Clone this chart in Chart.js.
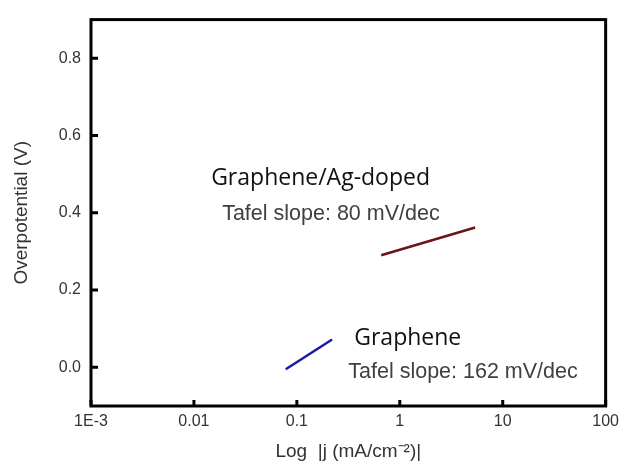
<!DOCTYPE html>
<html lang="en">
<head>
    <meta charset="UTF-8">
    <title>Tafel plot</title>
    <style>
        body {
            margin: 0;
            background-color: #ffffff;
        }
        #wrap {
            width: 625px;
            height: 465px;
        }
    </style>
</head>
<body>
    <div id="wrap">
        <canvas id="tafelChart" width="625" height="465"></canvas>
    </div>
    <script src="https://cdn.jsdelivr.net/npm/chart.js"></script>
    <script>
        // values
        const xTicks = [0.001, 0.01, 0.1, 1, 10, 100];
        const xTickLabels = ['1E-3', '0.01', '0.1', '1', '10', '100'];
        const yTicks = [0, 0.2, 0.4, 0.6, 0.8];

        const grapheneJ = [0.078, 0.22];
        const grapheneEta = [-0.005, 0.072];

        const agJ = [0.66, 5.4];
        const agEta = [0.29, 0.362];

        // annotation texts, placed in data coordinates (baseline, left edge)
        const notes = [
            { text: 'Graphene/Ag-doped', x: 0.0147, y: 0.472, font: '23px "Open Sans"', color: '#111111' },
            { text: 'Tafel slope: 80 mV/dec', x: 0.0188, y: 0.382, font: '21.5px "Liberation Sans"', color: '#404040' },
            { text: 'Graphene', x: 0.361, y: 0.059, font: '23px "Open Sans"', color: '#111111' },
            { text: 'Tafel slope: 162 mV/dec', x: 0.316, y: -0.028, font: '21.5px "Liberation Sans"', color: '#404040' }
        ];

        function toPoints(xs, ys) {
            return xs.map((x, i) => ({ x: x, y: ys[i] }));
        }

        // frame, inward ticks and the text notes
        const framePlugin = {
            id: 'frame',
            afterDraw(chart) {
                const ctx = chart.ctx;
                const area = chart.chartArea;
                const xs = chart.scales.x;
                const ys = chart.scales.y;
                ctx.save();
                ctx.strokeStyle = '#000';
                ctx.lineWidth = 3;
                ctx.strokeRect(area.left, area.top, area.right - area.left, area.bottom - area.top);

                ctx.beginPath();
                xTicks.forEach(v => {
                    const px = xs.getPixelForValue(v);
                    ctx.moveTo(px, area.bottom);
                    ctx.lineTo(px, area.bottom - 6);
                });
                yTicks.forEach(v => {
                    const py = ys.getPixelForValue(v);
                    ctx.moveTo(area.left, py);
                    ctx.lineTo(area.left + 7, py);
                });
                ctx.stroke();

                ctx.textBaseline = 'alphabetic';
                ctx.textAlign = 'left';
                notes.forEach(n => {
                    ctx.font = n.font;
                    ctx.fillStyle = n.color;
                    ctx.fillText(n.text, xs.getPixelForValue(n.x), ys.getPixelForValue(n.y));
                });
                ctx.restore();
            }
        };

        const ctx = document.getElementById('tafelChart').getContext('2d');
        new Chart(ctx, {
            type: 'scatter',
            data: {
                datasets: [{
                    label: 'Graphene',
                    data: toPoints(grapheneJ, grapheneEta),
                    showLine: true,
                    borderColor: '#1a1aa8',
                    borderWidth: 2.5,
                    pointRadius: 0
                }, {
                    label: 'Graphene/Ag-doped',
                    data: toPoints(agJ, agEta),
                    showLine: true,
                    borderColor: '#6a1616',
                    borderWidth: 2.5,
                    pointRadius: 0
                }]
            },
            options: {
                responsive: false,
                animation: false,
                layout: {
                    padding: { top: 17, right: 19, left: 0, bottom: 0 }
                },
                plugins: {
                    legend: { display: false },
                    tooltip: { enabled: false }
                },
                scales: {
                    x: {
                        type: 'logarithmic',
                        min: 0.001,
                        max: 100,
                        afterBuildTicks: scale => {
                            scale.ticks = xTicks.map(v => ({ value: v }));
                        },
                        afterFit: scale => {
                            scale.height = 59;
                        },
                        grid: { display: false, drawTicks: false },
                        border: { display: false },
                        ticks: {
                            padding: 6,
                            maxRotation: 0,
                            autoSkip: false,
                            color: '#333',
                            font: { family: 'Liberation Sans', size: 16 },
                            callback: (value) => xTickLabels[xTicks.indexOf(value)] || ''
                        },
                        title: {
                            display: true,
                            text: 'Log  |j (mA/cm\u207B\u00B2)|',
                            color: '#333',
                            font: { family: 'Liberation Sans', size: 19 },
                            padding: { top: 0, bottom: 2 }
                        }
                    },
                    y: {
                        min: -0.1,
                        max: 0.9,
                        afterBuildTicks: scale => {
                            scale.ticks = yTicks.map(v => ({ value: v }));
                        },
                        afterFit: scale => {
                            scale.width = 91;
                        },
                        grid: { display: false, drawTicks: false },
                        border: { display: false },
                        ticks: {
                            padding: 10,
                            color: '#333',
                            font: { family: 'Liberation Sans', size: 16 },
                            callback: (value) => Number(value).toFixed(1)
                        },
                        title: {
                            display: true,
                            text: 'Overpotential (V)',
                            color: '#333',
                            font: { family: 'Liberation Sans', size: 19 },
                            padding: { top: 10, bottom: 0 }
                        }
                    }
                }
            },
            plugins: [framePlugin]
        });
    </script>
</body>
</html>
